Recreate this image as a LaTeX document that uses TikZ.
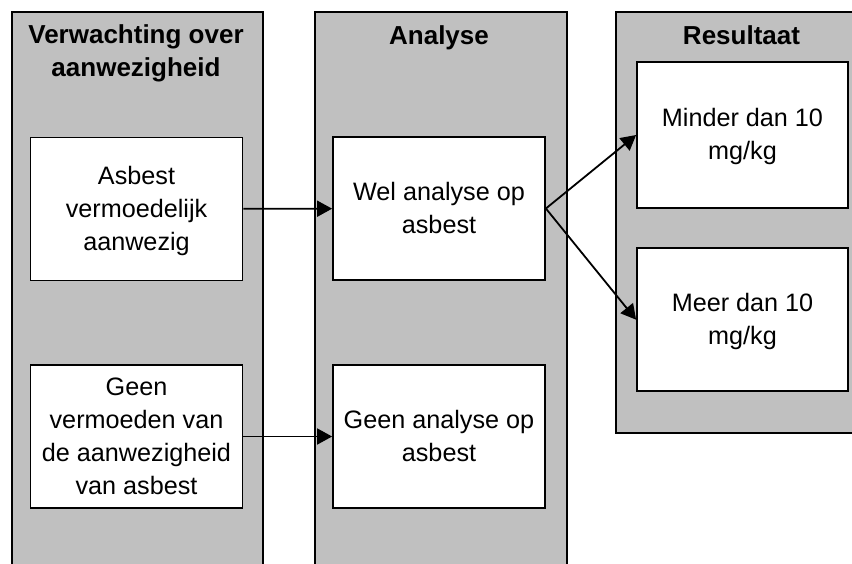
\documentclass[tikz,border=0pt]{standalone}
\usepackage{fontspec}
\setmainfont{Liberation Sans}
\usetikzlibrary{arrows.meta}
\definecolor{laneGray}{HTML}{C0C0C0}
% invisible strut that gives every text line the same height and depth
\newcommand\lnstrut{\rule[-6pt]{0pt}{28pt}}
\begin{document}
\begin{tikzpicture}[x=1pt,y=-1pt,
  lane/.style={draw=black, line width=1.8pt, fill=laneGray},
  header/.style={align=center, inner sep=0pt,
    font=\fontsize{26}{33.4}\selectfont\bfseries},
  card/.style={draw=black, line width=1.8pt, fill=white, align=center,
    inner sep=0pt, minimum width=212pt, minimum height=143pt,
    font=\fontsize{25.2}{33}\selectfont},
  flow/.style={line width=1.8pt, -{Triangle[length=15pt,width=16pt]}}
]
\useasboundingbox (0,0) rectangle (852,563);

% swimlanes
\draw[lane] (12,12) rectangle (263,600);
\draw[lane] (315,12) rectangle (567,600);
\draw[lane] (616,12) rectangle (867,433);

% lane titles
\node[header] (hExp) at (136,52) {\lnstrut Verwachting over\\\lnstrut aanwezigheid};
\node[header] (hAna) at (439,36.3) {\lnstrut Analyse};
\node[header] (hRes) at (741.5,36.3) {\lnstrut Resultaat};

% process boxes
\node[card] (sus)  at (136.5,209)
  {\lnstrut Asbest\\\lnstrut vermoedelijk\\\lnstrut aanwezig};
\node[card] (nosus) at (136.5,436.5)
  {\lnstrut Geen\\\lnstrut vermoeden van\\\lnstrut de aanwezigheid\\\lnstrut van asbest};
\node[card] (yes)  at (439,208.5) {\lnstrut Wel analyse op\\\lnstrut asbest};
\node[card] (no)   at (439,436.5) {\lnstrut Geen analyse op\\\lnstrut asbest};
\node[card, minimum width=211pt, minimum height=146pt] (low) at (742.5,135)
  {\lnstrut Minder dan 10\\\lnstrut mg/kg};
\node[card, minimum width=211pt, minimum height=143pt] (high) at (742.5,319.7)
  {\lnstrut Meer dan 10\\\lnstrut mg/kg};

% connectors
\draw[flow] (sus) -- (yes);
\draw[flow] (nosus) -- (no);
\draw[flow] (yes.east) -- (low.west);
\draw[flow] (yes.east) -- (high.west);
\end{tikzpicture}
\end{document}
